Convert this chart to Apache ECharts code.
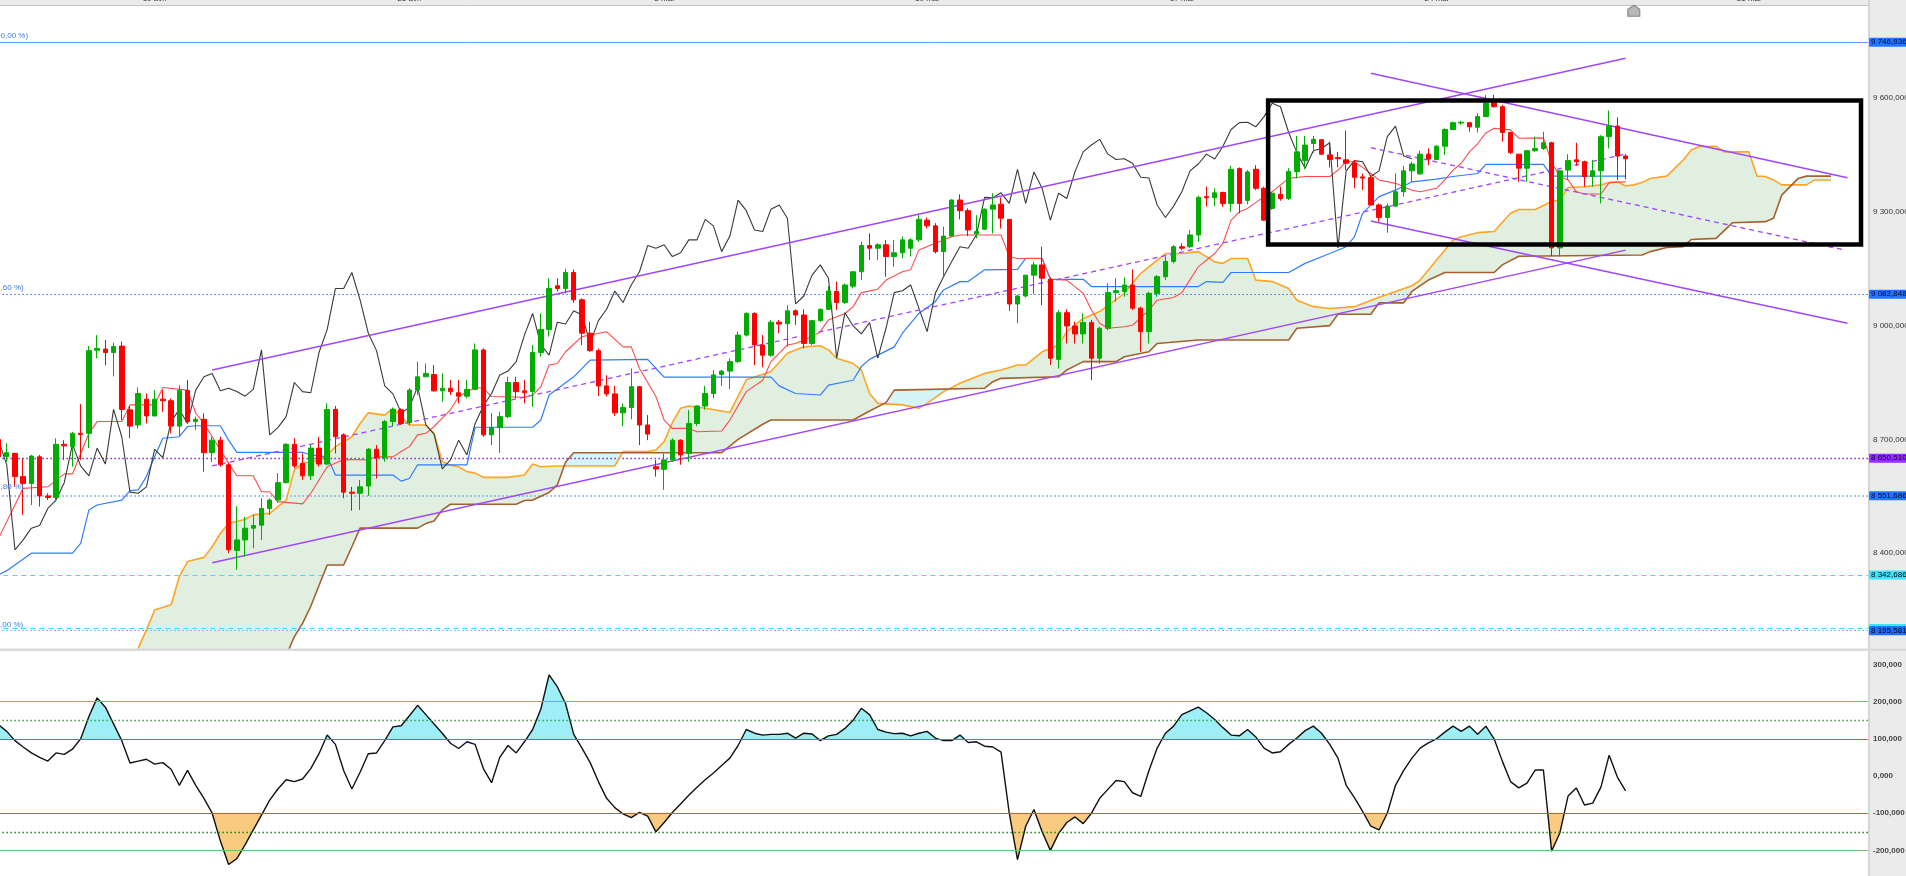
<!DOCTYPE html>
<html>
<head>
<meta charset="utf-8">
<title>Ichimoku</title>
<script src="https://cdn.jsdelivr.net/npm/echarts@6.0.0/dist/echarts.min.js"></script>
<style>
html,body{margin:0;padding:0;background:#ffffff;overflow:hidden;}
#chart{width:1906px;height:876px;}
</style>
</head>
<body>
<div id="chart"></div>
<script>
// ---------- DATA ----------
const opens = [
8700,8655,8663,8602,8584,8654,8551,8547,8687,8681,
8716,8716,8935,8938,8929,8946,8778,8738,8806,8762,
8806,8802,8735,8829,8747,8753,8665,8698,8633,8407,
8435,8466,8474,8518,8540,8586,8687,8637,8604,8677,
8635,8779,8712,8561,8558,8577,8674,8652,8747,8778,
8744,8830,8865,8871,8828,8835,8823,8814,8832,8936,
8712,8731,8760,8850,8828,8826,8929,8990,9105,9098,
9140,9068,8980,8934,8841,8820,8770,8784,8839,8738,
8628,8621,8646,8698,8663,8742,8788,8821,8871,8880,
8905,8975,9032,8949,8922,9009,9005,9039,9028,8953,
9013,9043,9090,9061,9104,9142,9211,9204,9213,9182,
9192,9204,9226,9278,9263,9195,9236,9331,9303,9242,
9254,9307,9320,9280,9057,9078,9133,9160,9122,8911,
9034,8999,8978,9008,8914,8993,9087,9090,9107,9046,
8984,9085,9129,9169,9208,9208,9239,9340,9337,9351,
9322,9414,9330,9412,9362,9309,9346,9335,9406,9435,
9480,9490,9450,9443,9437,9428,9392,9390,9318,9285,
9315,9353,9408,9400,9452,9438,9473,9517,9534,9535,
9523,9551,9588,9577,9509,9452,9415,9461,9467,9482,
9205,9410,9437,9432,9393,9408,9498,9526,9447];
const closes = [
8655,8665,8602,8584,8656,8551,8547,8687,8683,8716,
8713,8934,8940,8929,8945,8779,8735,8821,8762,8806,
8802,8735,8829,8747,8753,8665,8698,8633,8409,8435,
8466,8473,8518,8540,8586,8687,8630,8604,8677,8635,
8779,8707,8561,8558,8575,8674,8652,8747,8779,8742,
8830,8865,8874,8828,8835,8826,8814,8832,8936,8712,
8731,8760,8850,8826,8823,8929,8990,9098,9098,9140,
9068,8980,8934,8841,8820,8770,8784,8839,8738,8714,
8622,8646,8698,8659,8742,8788,8821,8870,8880,8905,
8975,9032,8949,8922,9009,9004,9039,9028,8953,9013,
9043,9091,9061,9107,9142,9211,9204,9213,9182,9192,
9226,9226,9280,9263,9195,9236,9331,9303,9252,9248,
9307,9318,9283,9057,9078,9133,9160,9125,8914,9034,
8999,8978,9008,8914,8993,9087,9092,9107,9046,8984,
9085,9129,9169,9208,9204,9239,9338,9337,9350,9322,
9412,9322,9405,9362,9278,9349,9335,9406,9458,9476,
9491,9452,9438,9440,9428,9391,9389,9318,9285,9315,
9353,9408,9426,9452,9439,9473,9517,9535,9536,9524,
9551,9586,9577,9509,9456,9415,9461,9467,9482,9205,
9408,9435,9432,9393,9408,9498,9526,9447,9440];
const lows = [
8646,8641,8575,8501,8527,8523,8540,8536,8646,8628,
8646,8677,8914,8896,8866,8751,8703,8729,8742,8760,
8773,8716,8707,8742,8725,8615,8641,8628,8400,8356,
8391,8413,8435,8501,8532,8584,8624,8593,8593,8628,
8633,8663,8545,8512,8514,8551,8597,8641,8734,8738,
8738,8817,8865,8826,8799,8817,8795,8808,8830,8707,
8685,8665,8756,8808,8795,8786,8918,8971,9090,9085,
9060,8949,8931,8814,8813,8762,8735,8753,8685,8698,
8602,8567,8641,8633,8641,8735,8778,8808,8841,8832,
8902,8971,8896,8890,8918,8980,8945,9002,8940,8949,
9010,9041,9041,9057,9098,9120,9173,9173,9129,9155,
9177,9182,9221,9256,9190,9129,9234,9280,9236,9230,
9252,9243,9256,9039,9006,9074,9083,9054,8896,8887,
8953,8953,8953,8856,8899,8988,9063,9076,9041,8931,
8953,9076,9120,9164,9199,9204,9221,9314,9315,9313,
9300,9296,9320,9357,9278,9305,9329,9331,9388,9412,
9456,9450,9417,9417,9410,9362,9357,9318,9274,9245,
9313,9340,9379,9397,9423,9437,9450,9516,9529,9511,
9509,9549,9575,9485,9452,9379,9379,9458,9463,9183,
9182,9384,9421,9366,9366,9322,9467,9384,9386];
const highs = [
8707,8690,8665,8650,8659,8659,8558,8703,8698,8720,
8793,8946,8975,8962,8955,8958,8788,8837,8821,8830,
8830,8808,8843,8857,8760,8769,8707,8707,8639,8524,
8496,8501,8545,8545,8611,8690,8703,8663,8685,8707,
8795,8788,8716,8575,8593,8677,8685,8751,8784,8782,
8835,8905,8900,8896,8874,8857,8857,8857,8953,8940,
8769,8773,8865,8865,8857,8949,9032,9125,9125,9150,
9148,9072,9010,8940,8869,8841,8795,8887,8841,8764,
8646,8663,8703,8700,8777,8790,8841,8883,8883,8914,
8984,9035,9035,8975,9015,9015,9054,9043,9043,9015,
9045,9104,9116,9111,9142,9221,9243,9217,9226,9226,
9235,9230,9291,9285,9270,9261,9333,9346,9309,9291,
9309,9349,9338,9280,9081,9133,9168,9208,9127,9041,
9043,9010,9032,9015,8997,9111,9125,9127,9148,9050,
9089,9133,9182,9212,9217,9252,9342,9366,9362,9353,
9421,9417,9410,9423,9366,9353,9366,9415,9500,9500,
9500,9490,9485,9458,9514,9437,9401,9397,9322,9322,
9401,9421,9432,9461,9467,9476,9520,9538,9540,9535,
9560,9608,9608,9582,9511,9452,9463,9498,9511,9485,
9410,9452,9482,9435,9437,9502,9567,9549,9452];

// Ichimoku lines, vertices [bar index, value]
const tenkan = [[0,8439],[3,8571],[6,8575],[8,8609],[9,8609],[11,8716],[12,8747],[15,8747],[16,8791],[19,8791],[20,8837],[23,8830],[24,8769],[25,8742],[27,8672],[28,8637],[29,8604],[31,8604],[32,8562],[33,8562],[34,8536],[37,8530],[38,8558],[40,8628],[42,8647],[45,8646],[46,8654],[48,8654],[49,8668],[50,8681],[51,8712],[52,8716],[53,8734],[54,8756],[55,8778],[56,8813],[58,8837],[59,8835],[60,8813],[64,8811],[65,8817],[66,8839],[67,8896],[68,8900],[69,8931],[71,8971],[72,8975],[74,8984],[76,8944],[77,8944],[78,8887],[80,8813],[81,8751],[82,8729],[84,8729],[85,8720],[88,8722],[89,8751],[91,8826],[93,8856],[94,8905],[96,8949],[97,8953],[99,8971],[100,8984],[101,9015],[103,9032],[104,9050],[105,9087],[107,9096],[108,9120],[110,9142],[111,9147],[112,9199],[114,9217],[116,9234],[117,9239],[122,9239],[123,9182],[124,9177],[127,9177],[128,9122],[130,9120],[132,9085],[133,9041],[134,9006],[135,8993],[137,8997],[138,9001],[140,9041],[141,9067],[143,9074],[144,9087],[146,9155],[148,9190],[149,9217],[150,9278],[151,9300],[152,9309],[154,9340],[155,9353],[157,9388],[159,9393],[162,9393],[163,9410],[164,9432],[165,9432],[166,9417],[167,9401],[168,9384],[170,9375],[172,9357],[173,9353],[175,9362],[176,9384],[177,9410],[178,9428],[179,9458],[180,9480],[181,9508],[182,9520],[184,9516],[185,9494],[188,9495],[189,9430],[190,9393],[191,9384],[192,9353],[193,9347],[195,9347],[196,9377],[198,9379]];
const kijun = [[0,8343],[1,8354],[4,8400],[9,8400],[10,8426],[11,8514],[12,8527],[15,8540],[16,8565],[17,8567],[18,8602],[19,8655],[20,8703],[22,8707],[23,8734],[24,8736],[27,8736],[28,8698],[29,8666],[37,8666],[38,8659],[40,8654],[41,8606],[48,8606],[49,8590],[50,8597],[51,8633],[57,8633],[58,8732],[65,8732],[66,8751],[67,8817],[70,8865],[72,8909],[79,8911],[80,8887],[81,8864],[94,8864],[95,8841],[97,8821],[100,8817],[101,8843],[104,8856],[105,8892],[106,8911],[109,8944],[110,8980],[112,9032],[114,9063],[115,9094],[117,9116],[118,9116],[120,9147],[124,9148],[125,9177],[127,9177],[128,9122],[132,9122],[133,9103],[146,9103],[147,9116],[149,9114],[150,9140],[157,9140],[159,9164],[162,9190],[164,9208],[165,9234],[166,9296],[168,9340],[170,9357],[172,9379],[175,9386],[177,9393],[180,9401],[181,9425],[188,9425],[189,9394],[198,9394]];
const senkouA = [[16,8080],[17,8149],[18,8198],[19,8250],[21,8264],[22,8338],[23,8378],[25,8389],[26,8417],[27,8452],[28,8479],[30,8489],[31,8501],[33,8505],[34,8523],[35,8540],[36,8620],[37,8637],[38,8641],[39,8646],[40,8659],[41,8681],[43,8707],[44,8742],[45,8770],[47,8764],[48,8782],[49,8760],[50,8738],[52,8738],[53,8716],[54,8641],[55,8632],[56,8628],[57,8615],[58,8611],[59,8600],[62,8600],[64,8606],[65,8635],[66,8628],[68,8630],[75,8630],[76,8668],[79,8668],[80,8672],[81,8694],[82,8744],[83,8782],[84,8788],[86,8782],[89,8771],[91,8857],[94,8879],[96,8927],[98,8944],[100,8947],[101,8936],[102,8914],[104,8900],[105,8883],[106,8821],[107,8795],[110,8791],[112,8782],[113,8795],[115,8826],[117,8848],[120,8874],[122,8883],[124,8896],[125,8896],[127,8931],[129,8949],[130,8984],[132,9019],[134,9037],[137,9085],[139,9138],[142,9190],[144,9190],[146,9195],[148,9168],[149,9164],[150,9177],[152,9177],[153,9120],[155,9116],[157,9098],[158,9067],[160,9050],[162,9045],[165,9050],[168,9075],[170,9090],[172,9105],[173,9120],[175,9173],[177,9225],[178,9234],[180,9245],[182,9248],[184,9296],[185,9306],[187,9306],[189,9327],[190,9331],[191,9364],[193,9366],[195,9371],[196,9377],[197,9379],[198,9368],[199,9371],[200,9377],[201,9388],[203,9394],[204,9415],[205,9436],[206,9463],[207,9472],[209,9473],[210,9458],[213,9458],[214,9394],[215,9393],[216,9384],[217,9371],[220,9371],[221,9384],[223,9384]];
const senkouB = [[34,8060],[35,8130],[36,8180],[37,8215],[38,8260],[39,8315],[40,8369],[42,8369],[43,8417],[44,8466],[51,8466],[52,8478],[53,8485],[54,8514],[55,8529],[63,8529],[64,8539],[65,8540],[66,8550],[67,8560],[68,8580],[69,8640],[70,8665],[88,8665],[90,8700],[93,8740],[94,8751],[104,8751],[106,8775],[108,8797],[109,8830],[120,8835],[121,8852],[122,8861],[129,8865],[130,8883],[132,8905],[136,8905],[137,8918],[140,8931],[141,8953],[146,8962],[157,8962],[158,8993],[162,9000],[163,9030],[167,9030],[168,9060],[171,9060],[172,9090],[174,9120],[176,9140],[182,9140],[183,9160],[185,9183],[200,9186],[201,9195],[203,9206],[205,9208],[206,9227],[209,9230],[211,9271],[215,9274],[216,9283],[217,9344],[219,9388],[220,9394],[223,9394]];
const chikouShift = 26;

// CCI (lower panel), one value per bar
const cci = [
138,120,95,78,62,50,40,62,58,72,
100,160,210,185,140,95,35,40,45,32,
36,18,-25,15,-25,-60,-100,-175,-238,-222,
-185,-145,-105,-65,-35,-10,-15,-8,20,60,
110,85,15,-35,10,60,62,95,132,135,
162,190,165,140,115,88,74,92,85,20,
-18,50,82,62,92,125,180,272,240,195,
112,75,36,-15,-60,-85,-102,-112,-98,-108,
-150,-125,-98,-75,-52,-30,-10,8,28,48,
82,125,115,110,112,112,115,102,115,113,
95,108,112,128,150,182,165,125,118,114,
115,108,115,120,102,95,95,110,90,92,
80,78,64,-100,-225,-135,-90,-150,-200,-155,
-125,-110,-128,-100,-60,-36,-12,-15,-45,-55,
15,75,115,134,165,175,185,170,152,130,
110,108,125,105,75,62,65,85,102,122,
134,115,85,48,-25,-58,-95,-135,-145,-100,
-25,15,48,75,89,100,118,134,120,134,
112,134,100,40,-15,-32,-19,16,16,-202,
-153,-54,-32,-78,-73,-30,56,-3,-40];
const cciLevels = [200, 150, 100, -100, -150, -200];
const cciFillLevels = [100, -100];

// drawn annotations
const channelUpper = [[26,8883],[198,9705]];
const channelLower = [[26,8375],[198,9199]];
const channelMid = [[26,8630],[198,9452]];
const descUpper = [[167,9665],[225,9390]];
const descLower = [[167,9276],[225,9006]];
const descMid = [[167,9469],[224.7,9199]];
const boxCorners = [[154.5,9593.4],[226.65,9593.4],[226.65,9213.8],[154.5,9213.8],[154.5,9593.4]];
const levelValues = [9746.936, 9082.848, 8650.510, 8551.686, 8342.686, 8201.5, 8195.581];
const fibLabels = ['(100,00 %)', '(23,60 %)', '(61,80 %)', '(0,00 %)'];
const markerPos = [199, 9830];

// axes ticks
const priceTicks = [8400, 8700, 9000, 9300, 9600];
const cciTicks = [-200, -100, 0, 100, 200, 300];
const dateTickIdx = [19, 50, 81, 113, 144, 175, 213];
const dateTickLabels = ['19 avr.', '26 avr.', '3 mai', '10 mai', '17 mai', '24 mai', '31 mai'];

// ---------- STYLES ----------
const DOT = [1.5, 2.5];
const levelStyles = [
  {line:{color:'#5f9dff', type:'solid', width:1}, box:'#1f78ff'},
  {line:{color:'#2f72ff', type:DOT, width:1.2}, box:'#1f78ff'},
  {line:{color:'#8a1ee6', type:DOT, width:1.3}, box:'#9a2dff'},
  {line:{color:'#8fb3f3', type:DOT, width:2}, box:'#1f78ff'},
  {line:{color:'#3fdcff', type:[5, 4], width:1}, box:'#3fe2ff'},
  {line:{color:'#3fdcff', type:[5, 4], width:1}, box:'#3fe2ff'},
  {line:{color:'#7fa3f0', type:DOT, width:1.2}, box:'#1f6cff'}
];
const cciLevelStyles = [
  {color:'#6cbf6c', type:'solid', width:1.2},
  {color:'#3aa53a', type:DOT, width:1.3},
  {color:'#ff4040', type:'solid', width:1.2},
  {color:'#ff4040', type:'solid', width:1.2},
  {color:'#0d850d', type:DOT, width:1.3},
  {color:'#6cbf6c', type:'solid', width:1.2}
];
const FONT = 'Liberation Sans';

// ---------- HELPERS ----------
function frNum(v, d) {
  const neg = v < 0;
  const parts = Math.abs(v).toFixed(d).split('.');
  const ip = parts[0].replace(/\B(?=(\d{3})+(?!\d))/g, ' ');
  return (neg ? '-' : '') + ip + ',' + parts[1];
}
function polyAt(pts, x) {
  if (x <= pts[0][0]) return pts[0][1];
  for (let k = 1; k < pts.length; k++) {
    if (x <= pts[k][0]) {
      const x0 = pts[k-1][0], y0 = pts[k-1][1], x1 = pts[k][0], y1 = pts[k][1];
      return y0 + (y1 - y0) * (x - x0) / (x1 - x0);
    }
  }
  return pts[pts.length-1][1];
}
function bandRuns(samples) {
  const s = [];
  for (let k = 0; k < samples.length; k++) {
    const p = samples[k];
    if (k > 0) {
      const q = samples[k-1];
      const d1 = q.a - q.b, d2 = p.a - p.b;
      if (d1 * d2 < 0) {
        const t = d1 / (d1 - d2);
        const x = q.x + t * (p.x - q.x);
        const v = q.a + t * (p.a - q.a);
        s.push({x: x, a: v, b: v});
      }
    }
    s.push(p);
  }
  const runs = [];
  let run = null;
  for (let k = 0; k < s.length - 1; k++) {
    const sign = ((s[k].a + s[k+1].a) - (s[k].b + s[k+1].b)) >= 0 ? 1 : -1;
    if (!run || run.sign !== sign) { run = {sign: sign, pts: [s[k]]}; runs.push(run); }
    run.pts.push(s[k+1]);
  }
  return runs;
}
function runPolygon(api, run) {
  const up = run.pts.map(p => api.coord([p.x, p.a]));
  const dn = run.pts.slice().reverse().map(p => api.coord([p.x, p.b]));
  return up.concat(dn);
}

// ---------- OPTION ----------
const candleData = opens.map((o, i) => [i, o, closes[i], lows[i], highs[i]]);
const chikouData = closes.slice(chikouShift).map((c, k) => [k, c]);
const cciData = cci.map((v, i) => [i, v]);

const cloudXs = Array.from(new Set(senkouA.map(p => p[0]).concat(senkouB.map(p => p[0]))))
  .filter(x => x >= senkouA[0][0]).sort((a, b) => a - b);

function lineSeries(name, data, color, width, type, z) {
  return {
    name: name, type: 'line', xAxisIndex: 0, yAxisIndex: 0, data: data,
    symbol: 'none', silent: true, animation: false, z: z || 3,
    lineStyle: {color: color, width: width, type: type || 'solid'}
  };
}

const option = {
  animation: false,
  backgroundColor: '#ffffff',
  textStyle: {fontFamily: FONT},
  grid: [
    {left: -5.6, right: 38, top: 5, bottom: 227, outerBoundsMode: 'none', containLabel: false},
    {left: -5.6, right: 38, top: 651, bottom: 0, outerBoundsMode: 'none', containLabel: false}
  ],
  xAxis: [
    {type: 'value', gridIndex: 0, min: -0.5, max: 227.5, position: 'top',
     axisLine: {show: true, onZero: false, lineStyle: {color: '#c4c4c4', width: 1}},
     axisTick: {show: false}, splitLine: {show: false},
     axisLabel: {show: true, customValues: dateTickIdx, margin: 2, fontSize: 8, color: '#333', fontFamily: FONT,
       formatter: function (v) { const k = dateTickIdx.indexOf(v); return k >= 0 ? dateTickLabels[k] : ''; }}},
    {type: 'value', gridIndex: 1, min: -0.5, max: 227.5, show: false,
     axisLine: {show: false}, axisTick: {show: false}, splitLine: {show: false}, axisLabel: {show: false}}
  ],
  yAxis: [
    {type: 'value', gridIndex: 0, position: 'right', min: 8147.45, max: 9845.17,
     axisLine: {show: false}, axisTick: {show: false}, splitLine: {show: false},
     axisLabel: {show: true, customValues: priceTicks, margin: 5, fontSize: 8, color: '#333', fontFamily: FONT,
       formatter: function (v) { return frNum(v, 3); }}},
    {type: 'value', gridIndex: 1, position: 'right', min: -268.8, max: 336,
     axisLine: {show: false}, axisTick: {show: false}, splitLine: {show: false},
     axisLabel: {show: true, customValues: cciTicks, margin: 5, fontSize: 8, color: '#444', fontWeight: 'bold', fontFamily: FONT,
       formatter: function (v) { return frNum(v, 3); }}}
  ],
  series: [
    {type: 'custom', name: 'cloud', xAxisIndex: 0, yAxisIndex: 0, coordinateSystem: 'cartesian2d',
     data: [[0, 9000]], clip: true, silent: true, z: 1,
     renderItem: function (params, api) {
       const samples = cloudXs.map(x => ({x: x, a: polyAt(senkouA, x), b: polyAt(senkouB, x)}));
       const runs = bandRuns(samples);
       return {type: 'group', children: runs.map(r => ({
         type: 'polygon', shape: {points: runPolygon(api, r)},
         style: {fill: r.sign > 0 ? '#e1efe1' : '#d5f5f8', stroke: null}
       }))};
     }},
    lineSeries('Senkou A', senkouA, '#ffa423', 1.6, 'solid', 2),
    lineSeries('Senkou B', senkouB, '#a5612d', 1.6, 'solid', 2),
    lineSeries('Kijun', kijun, '#2f7dff', 1.2, 'solid', 3),
    lineSeries('Tenkan', tenkan, '#ff4a4a', 1.1, 'solid', 3),
    lineSeries('Chikou', chikouData, '#3a3a3a', 1.1, 'solid', 3),
    lineSeries('Canal haut', channelUpper, '#a046ff', 1.5, 'solid', 4),
    lineSeries('Canal bas', channelLower, '#a046ff', 1.5, 'solid', 4),
    lineSeries('Canal milieu', channelMid, '#a046ff', 1.3, [5, 4], 4),
    lineSeries('Oblique haut', descUpper, '#a046ff', 1.5, 'solid', 4),
    lineSeries('Oblique bas', descLower, '#a046ff', 1.5, 'solid', 4),
    lineSeries('Oblique milieu', descMid, '#a046ff', 1.3, [5, 4], 4),
    {type: 'candlestick', name: 'Cours', xAxisIndex: 0, yAxisIndex: 0, data: candleData,
     encode: {x: 0, y: [1, 2, 3, 4]}, barWidth: 5, silent: true, z: 5,
     itemStyle: {color: '#00ad00', color0: '#ff0000', borderColor: '#00ad00', borderColor0: '#ff0000', borderWidth: 1},
     markPoint: {silent: true, symbol: 'path://M6,0 L12,4 L12,11 L0,11 L0,4 Z', symbolSize: [12, 11],
       itemStyle: {color: '#b8b8b8', borderColor: '#858585', borderWidth: 1}, label: {show: false},
       data: [{coord: markerPos}]}},
    {type: 'line', name: 'Cadre', xAxisIndex: 0, yAxisIndex: 0, data: boxCorners,
     symbol: 'none', silent: true, z: 6, clip: false,
     lineStyle: {color: '#000000', width: 4.5, join: 'miter', cap: 'square'},
     markLine: {symbol: 'none', silent: true, animation: false, emphasis: {disabled: true}, z: 2,
       data: levelValues.map((v, k) => ({
         yAxis: v,
         lineStyle: levelStyles[k].line,
         label: {show: true, position: 'end', distance: 1, formatter: frNum(v, 3),
           fontSize: 8, fontFamily: FONT, color: '#0a0a0a', backgroundColor: levelStyles[k].box,
           padding: [1, 2, 0, 2], borderRadius: 1}
       }))}},
    {type: 'custom', name: 'cciFill', xAxisIndex: 1, yAxisIndex: 1, coordinateSystem: 'cartesian2d',
     data: [[0, 0]], clip: true, silent: true, z: 2,
     renderItem: function (params, api) {
       const children = [];
       const upRuns = bandRuns(cciData.map(p => ({x: p[0], a: p[1], b: cciFillLevels[0]})));
       upRuns.filter(r => r.sign > 0).forEach(r => children.push({type: 'polygon', shape: {points: runPolygon(api, r)},
         style: {fill: '#9eeef8', stroke: '#79e2ef', lineWidth: 0.6}}));
       const dnRuns = bandRuns(cciData.map(p => ({x: p[0], a: p[1], b: cciFillLevels[1]})));
       dnRuns.filter(r => r.sign < 0).forEach(r => children.push({type: 'polygon', shape: {points: runPolygon(api, r)},
         style: {fill: '#f9cb80', stroke: '#f0b860', lineWidth: 0.6}}));
       return {type: 'group', children: children};
     }},
    {type: 'line', name: 'CCI', xAxisIndex: 1, yAxisIndex: 1, data: cciData, symbol: 'none', silent: true, z: 4,
     lineStyle: {color: '#111111', width: 1.4},
     markLine: {symbol: 'none', silent: true, animation: false, emphasis: {disabled: true}, label: {show: false},
       data: cciLevels.map((v, k) => ({yAxis: v, lineStyle: cciLevelStyles[k]}))}}
  ],
  graphic: [
    {type: 'rect', z: -10, silent: true, shape: {x: 0, y: 0, width: 1906, height: 5}, style: {fill: '#ebebeb'}},
    {type: 'rect', z: -10, silent: true, shape: {x: 1868, y: 0, width: 38, height: 876}, style: {fill: '#ebebeb'}},
    {type: 'rect', z: -9, silent: true, shape: {x: 1868, y: 0, width: 2, height: 876}, style: {fill: '#d6d6d6'}},
    {type: 'rect', z: 20, silent: true, shape: {x: 0, y: 648.5, width: 1906, height: 2.5}, style: {fill: '#dadada'}},
    {type: 'text', z: 20, silent: true, x: -11, y: 35.5, style: {text: fibLabels[0], fill: '#3d7be0', font: '8px "Liberation Sans"', verticalAlign: 'middle'}},
    {type: 'text', z: 20, silent: true, x: -11, y: 288, style: {text: fibLabels[1], fill: '#3d7be0', font: '8px "Liberation Sans"', verticalAlign: 'middle'}},
    {type: 'text', z: 20, silent: true, x: -11, y: 486.5, style: {text: fibLabels[2], fill: '#3d7be0', font: '8px "Liberation Sans"', verticalAlign: 'middle'}},
    {type: 'text', z: 20, silent: true, x: -7, y: 625, style: {text: fibLabels[3], fill: '#3d7be0', font: '8px "Liberation Sans"', verticalAlign: 'middle'}}
  ]
};

const chart = echarts.init(document.getElementById('chart'), null, {renderer: 'canvas', width: 1906, height: 876});
chart.setOption(option);
</script>
</body>
</html>
